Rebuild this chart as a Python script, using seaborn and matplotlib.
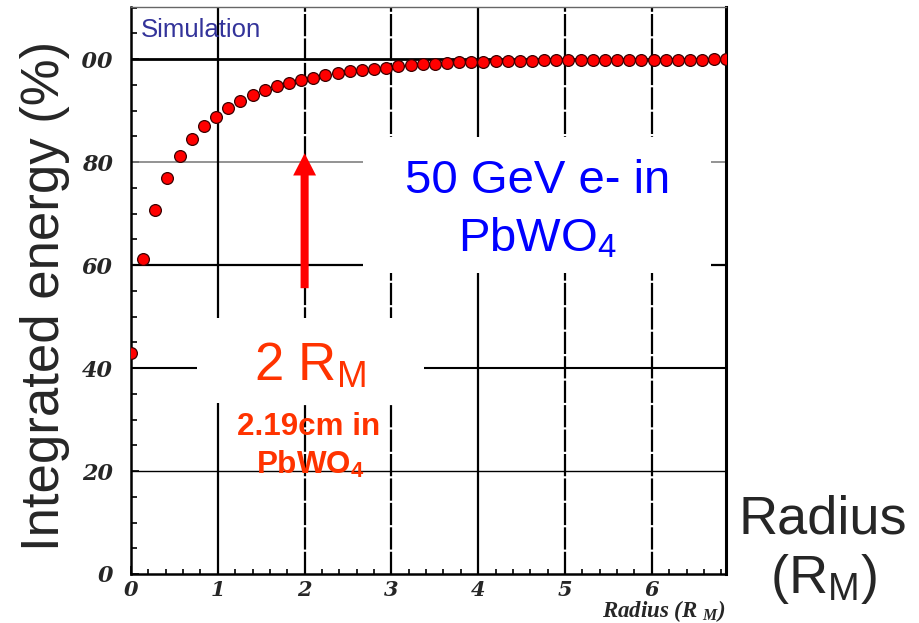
import matplotlib
matplotlib.use("Agg")
import matplotlib.pyplot as plt
import seaborn as sns
from matplotlib.patches import Rectangle
from matplotlib.ticker import MultipleLocator

# radius in Moliere radii and the integrated energy (%)
radius = [0.00, 0.14, 0.28, 0.42, 0.56, 0.70, 0.84, 0.98, 1.12, 1.26,
          1.40, 1.54, 1.68, 1.82, 1.96, 2.10, 2.24, 2.38, 2.52, 2.66,
          2.80, 2.94, 3.08, 3.22, 3.36, 3.50, 3.64, 3.78, 3.92, 4.06,
          4.20, 4.34, 4.48, 4.62, 4.76, 4.90, 5.04, 5.18, 5.32, 5.46,
          5.60, 5.74, 5.88, 6.02, 6.16, 6.30, 6.44, 6.58, 6.72, 6.86]
energy = [43.0, 61.1, 70.7, 76.8, 81.2, 84.4, 87.0, 88.8, 90.5, 91.9,
          93.0, 93.9, 94.8, 95.4, 95.9, 96.4, 96.8, 97.3, 97.6, 97.9,
          98.1, 98.3, 98.6, 98.8, 99.0, 99.1, 99.3, 99.35, 99.45, 99.5,
          99.6, 99.65, 99.7, 99.7, 99.72, 99.75, 99.75, 99.78, 99.8, 99.8,
          99.82, 99.85, 99.85, 99.87, 99.88, 99.9, 99.9, 99.9, 99.92, 99.95]

x_ticks = [0, 1, 2, 3, 4, 5, 6]
y_ticks = [0, 20, 40, 60, 80, 100]

sns.set_style("white")
plt.rcParams["font.family"] = ["Liberation Sans", "DejaVu Sans"]
plt.rcParams["mathtext.fontset"] = "custom"
plt.rcParams["mathtext.rm"] = "Liberation Sans"
plt.rcParams["mathtext.bf"] = "Liberation Sans:bold"
plt.rcParams["mathtext.it"] = "Liberation Serif:italic:bold"

fig = plt.figure(figsize=(9.2, 6.23), dpi=100)
ax = fig.add_axes([131 / 920, 1 - 574 / 623, (725.7 - 131) / 920, (574 - 7) / 623])

# grid lines, drawn by hand because each one has its own look
hline_style = {20: (1.0, "black"), 40: (1.5, "black"), 60: (1.6, "black"),
               80: (1.2, "#808080"), 100: (2.0, "black")}
for yv in y_ticks[1:]:
    lw, col = hline_style[yv]
    ax.axhline(yv, color=col, lw=lw, zorder=1)
for xv in x_ticks[1:]:
    ls = "-" if xv in (1, 4) else (0, (10, 1))
    ax.axvline(xv, color="black", lw=1.6, ls=ls, zorder=1)

# white boxes behind the big labels
ax.add_patch(Rectangle((2.67, 58.45), 4.01, 26.4, fc="white", ec="none", zorder=2))
ax.add_patch(Rectangle((0.76, 33.2), 2.62, 16.5, fc="white", ec="none", zorder=2))

sns.scatterplot(x=radius, y=energy, ax=ax, color="#ff0000", edgecolor="#3a0000",
                s=72, linewidth=0.9, zorder=3, legend=False)

ax.set_xlim(0, 6.851)
ax.set_ylim(0, 110.1)
ax.set_xlabel("")
ax.set_ylabel("")
ax.set_xticks(x_ticks)
ax.set_yticks(y_ticks)
ax.xaxis.set_minor_locator(MultipleLocator(0.2))
ax.yaxis.set_minor_locator(MultipleLocator(5))
ax.tick_params(which="both", direction="in", color="black", width=1.2,
               left=True, bottom=True, right=False, top=False)
ax.tick_params(which="major", length=6)
ax.tick_params(axis="x", which="minor", length=3.4)
ax.tick_params(axis="y", which="minor", length=4.5)
ax.tick_params(axis="y", which="major", pad=13, labelsize=16)
ax.tick_params(axis="x", which="major", pad=4, labelsize=15)
for lbl in ax.get_xticklabels() + ax.get_yticklabels():
    lbl.set_fontfamily("DejaVu Serif")
    lbl.set_fontstyle("italic")
    lbl.set_fontweight("bold")

for side, lw, col in [("left", 1.8, "black"), ("bottom", 1.8, "black"),
                      ("right", 2.2, "black"), ("top", 1.0, "#666666")]:
    ax.spines[side].set_visible(True)
    ax.spines[side].set_linewidth(lw)
    ax.spines[side].set_color(col)

ax.text(1.0, -0.076, r"Radius (R $_{\mathit{M}}$)", transform=ax.transAxes,
        ha="right", va="baseline", fontsize=16.5, family="Liberation Serif",
        style="italic", weight="bold", clip_on=False)

ax.text(0.115, 104.3, "Simulation", color="#33339a", fontsize=18.5, va="baseline", zorder=4)

ax.text(4.68, 74.0, "50 GeV e- in", color="#0000ff", fontsize=34,
        ha="center", va="baseline", zorder=4)
ax.text(4.68, 62.5, r"PbWO$_4$", color="#0000ff", fontsize=34,
        ha="center", va="baseline", zorder=4)

ax.annotate("", xy=(2, 81.7), xytext=(2, 55.5), zorder=4,
            arrowprops=dict(facecolor="#ff0000", edgecolor="none", width=5.8,
                            headwidth=16.5, headlength=16, shrink=0))

ax.text(2.06, 37.5, r"2 R$_\mathrm{M}$", color="#ff3300", fontsize=38,
        ha="center", va="baseline", zorder=4)
ax.text(2.05, 27.0, "2.19cm in", color="#ff3300", fontsize=22.6, weight="bold",
        ha="center", va="baseline", zorder=4)
ax.text(2.06, 19.6, r"PbWO$_\mathbf{4}$", color="#ff3300", fontsize=22.6, weight="bold",
        ha="center", va="baseline", zorder=4)

# white strip of the y-title box, it hides the leading "1" of 100
fig.patches.append(Rectangle((0, 0), 82 / 920, 1, transform=fig.transFigure,
                             fc="white", ec="none", zorder=2))
fig.text(0.049, 0.525, "Integrated energy (%)", rotation=90, fontsize=38,
         ha="center", va="center", zorder=3)

fig.text(823 / 920, 1 - 533 / 623, "Radius", fontsize=39, ha="center", va="baseline")
fig.text(823 / 920, 1 - 593 / 623, r"(R$_\mathrm{M}$)", fontsize=39, ha="center", va="baseline")

fig.savefig("out.png", dpi=100)
